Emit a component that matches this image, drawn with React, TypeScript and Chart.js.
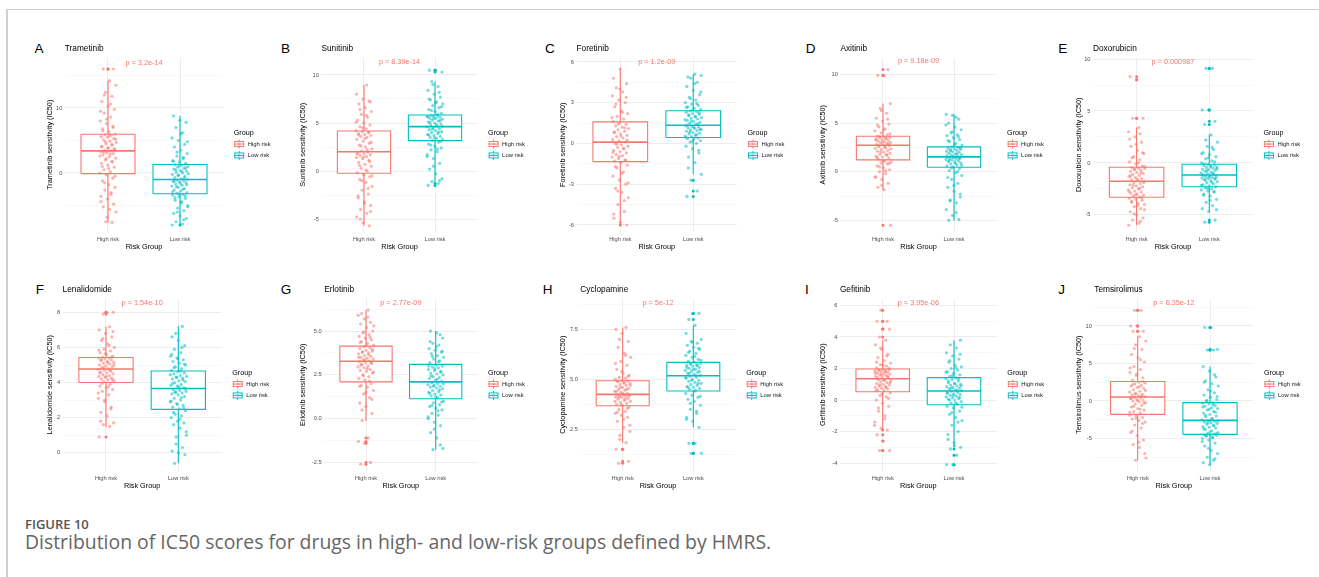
import React, { useEffect, useRef } from "react";
import { Chart, registerables } from "chart.js";

Chart.register(...registerables);

const FONT = "'Liberation Sans', Arial, Helvetica, sans-serif";
const HIGH_COLOR = "#F8766D";
const LOW_COLOR = "#00BFC4";
const HIGH_POINT = "rgba(248,118,109,0.55)";
const LOW_POINT = "rgba(0,191,196,0.55)";

// ---------------- data ----------------
const panelLetters = ["A", "B", "C", "D", "E", "F", "G", "H", "I", "J"];
const drugNames = ["Trametinib", "Sunitinib", "Foretinib", "Axitinib", "Doxorubicin", "Lenalidomide", "Erlotinib", "Cyclopamine", "Gefitinib", "Temsirolimus"];
const pLabels = ["p = 3.2e-14", "p = 8.39e-14", "p = 1.2e-09", "p = 9.18e-09", "p = 0.000987", "p = 1.54e-10", "p = 2.77e-09", "p = 5e-12", "p = 3.95e-06", "p = 6.35e-12"];
const pLabelY = [16.9, 11.35, 6.0, 11.4, 9.7, 8.53, 6.6, 8.8, 6.15, 13.07];
const riskGroups = ["High risk", "Low risk"];
const xAxisTitle = "Risk Group";
const legendTitle = "Group";

// box statistics: [lower whisker, Q1, median, Q3, upper whisker]
const highStats = [
  [-7.6, -0.1, 3.4, 5.95, 14.2],
  [-5.7, -0.24, 2.0, 4.17, 8.96],
  [-5.98, -1.34, 0.1, 1.59, 5.5],
  [-1.86, 1.21, 2.72, 3.65, 7.0],
  [-6.0, -3.3, -1.77, -0.42, 3.4],
  [1.45, 4.0, 4.77, 5.43, 7.18],
  [-0.14, 2.1, 3.28, 4.14, 6.2],
  [1.83, 3.68, 4.25, 4.93, 7.6],
  [-1.86, 0.53, 1.35, 1.97, 3.8],
  [-7.9, -1.78, 0.53, 2.6, 8.6],
];
const lowStats = [
  [-7.85, -3.2, -1.0, 1.3, 8.8],
  [-1.2, 3.16, 4.62, 5.83, 9.3],
  [-2.27, 0.44, 1.34, 2.41, 5.1],
  [-5.03, 0.45, 1.52, 2.55, 5.9],
  [-4.7, -2.29, -1.16, -0.13, 2.74],
  [-0.6, 2.47, 3.66, 4.66, 7.22],
  [-1.77, 1.14, 2.1, 3.1, 5.0],
  [2.6, 4.42, 5.18, 5.85, 7.7],
  [-3.0, -0.3, 0.57, 1.42, 3.8],
  [-8.5, -4.45, -2.58, -0.22, 4.6],
];

// individual sample values (IC50)
const trametinibHigh = [-7.6, -7.5, -6.0, -5.6, -5.2, -4.8, -4.0, -3.6, -3.0, -2.6, -2.2, -1.8, -1.2, -0.8, -0.3, 0.0, 0.2, 0.5, 0.9, 1.2, 1.5, 1.8, 2.0, 2.3, 2.5, 2.8, 3.0, 3.1, 3.3, 3.4, 3.5, 3.7, 3.9, 4.1, 4.3, 4.5, 4.7, 4.9, 5.1, 5.3, 5.5, 5.6, 5.8, 5.9, 6.0, 6.3, 6.8, 7.2, 7.6, 8.0, 8.6, 9.2, 9.8, 10.3, 11.0, 11.8, 12.4, 13.5, 14.2, 16.0, 16.0,
  -6.8, -4.4, -3.3, -1.5, -0.5, 0.7, 1.0, 1.7, 2.2, 2.6, 2.9, 3.2, 3.6, 3.8, 4.0, 4.4, 4.8, 5.2, 5.7, 6.5, 7.0, 8.3, 9.5, 10.6, 12.0];
const trametinibLow = [-8.0, -7.85, -7.5, -7.0, -6.6, -6.2, -5.8, -5.4, -5.0, -4.6, -4.2, -3.9, -3.6, -3.4, -3.3, -3.1, -3.0, -2.8, -2.6, -2.4, -2.2, -2.0, -1.9, -1.7, -1.5, -1.4, -1.3, -1.2, -1.1, -1.0, -0.9, -0.7, -0.5, -0.3, -0.2, 0.0, 0.1, 0.3, 0.4, 0.6, 0.7, 0.9, 1.0, 1.2, 1.3, 1.5, 1.7, 1.9, 2.2, 2.6, 3.0, 3.5, 4.0, 4.4, 5.0, 5.4, 6.2, 7.0, 7.8, 8.1, 8.8,
  -7.2, -6.0, -5.2, -4.4, -3.8, -3.5, -3.2, -2.9, -2.5, -2.1, -1.8, -1.6, -1.25, -0.8, -0.4, -0.1, 0.2, 0.5, 0.8, 1.1, 1.8, 2.4, 3.2, 4.8, 6.0];
const sunitinibHigh = [-5.7, -5.4, -4.8, -4.4, -4.0, -3.6, -3.2, -2.8, -2.4, -2.0, -1.6, -1.2, -0.9, -0.6, -0.4, -0.2, 0.0, 0.3, 0.5, 0.7, 0.9, 1.1, 1.3, 1.4, 1.5, 1.6, 1.7, 1.8, 1.9, 2.0, 2.1, 2.3, 2.5, 2.7, 2.9, 3.1, 3.3, 3.5, 3.6, 3.7, 3.8, 3.9, 4.0, 4.1, 4.2, 4.4, 4.6, 4.8, 5.0, 5.3, 5.6, 5.9, 6.2, 6.6, 7.0, 7.3, 7.5, 8.0, 8.96,
  -5.0, -4.2, -3.4, -2.6, -1.8, -1.0, -0.5, 0.1, 0.6, 1.0, 1.45, 1.75, 2.2, 2.6, 3.0, 3.4, 3.75, 4.05, 4.5, 5.1, 5.8, 6.4, 7.2];
const sunitinibLow = [-1.5, -1.3, -1.1, -0.8, -0.3, 0.2, 0.8, 1.3, 1.7, 2.0, 2.2, 2.4, 2.6, 2.8, 3.0, 3.2, 3.3, 3.4, 3.5, 3.6, 3.7, 3.8, 3.9, 4.0, 4.1, 4.2, 4.3, 4.4, 4.5, 4.6, 4.7, 4.8, 4.9, 5.0, 5.1, 5.2, 5.3, 5.4, 5.5, 5.5, 5.6, 5.7, 5.7, 5.8, 5.8, 6.0, 6.2, 6.4, 6.6, 6.8, 7.0, 7.2, 7.4, 7.7, 8.0, 8.4, 8.8, 9.3, 10.3, 10.5, 10.5,
  -1.0, 0.5, 1.5, 2.3, 2.7, 3.1, 3.45, 3.75, 4.05, 4.35, 4.65, 4.85, 5.05, 5.25, 5.45, 5.65, 5.9, 6.3, 6.7, 7.1, 7.5, 8.2, 9.0];
const foretinibHigh = [-6.0, -5.8, -5.5, -5.0, -4.5, -4.0, -3.6, -3.3, -3.0, -2.7, -2.4, -2.1, -1.8, -1.6, -1.4, -1.3, -1.2, -1.1, -1.0, -0.9, -0.8, -0.7, -0.6, -0.5, -0.4, -0.3, -0.2, -0.1, 0.0, 0.1, 0.2, 0.3, 0.4, 0.5, 0.6, 0.7, 0.8, 0.9, 1.0, 1.1, 1.2, 1.3, 1.4, 1.5, 1.6, 1.8, 2.0, 2.2, 2.4, 2.7, 3.0, 3.2, 3.5, 3.8, 4.1, 4.4, 5.5,
  -5.2, -4.2, -3.5, -2.9, -2.2, -1.7, -1.25, -0.95, -0.65, -0.35, -0.05, 0.25, 0.55, 0.85, 1.15, 1.45, 1.9, 2.3, 2.9, 3.4, 4.0, 4.8];
const foretinibLow = [-3.9, -3.5, -2.7, -2.27, -1.4, -1.0, -0.7, -0.4, -0.2, 0.0, 0.1, 0.2, 0.3, 0.35, 0.4, 0.5, 0.55, 0.6, 0.7, 0.75, 0.8, 0.9, 0.95, 1.0, 1.05, 1.1, 1.15, 1.2, 1.25, 1.3, 1.4, 1.5, 1.55, 1.6, 1.7, 1.8, 1.85, 1.9, 2.0, 2.1, 2.15, 2.2, 2.3, 2.35, 2.4, 2.5, 2.6, 2.7, 2.8, 2.9, 3.0, 3.2, 3.4, 3.6, 3.9, 4.2, 4.5, 4.8, 5.0, 5.1,
  -1.8, -0.5, 0.15, 0.45, 0.65, 0.85, 1.0, 1.2, 1.35, 1.45, 1.65, 1.75, 1.95, 2.05, 2.25, 2.45, 2.65, 2.95, 3.3, 3.8, 4.4, 4.9];
const axitinibHigh = [-5.5, -1.86, -1.6, -1.2, -0.8, -0.5, -0.2, 0.0, 0.2, 0.4, 0.6, 0.8, 0.9, 1.0, 1.1, 1.3, 1.4, 1.5, 1.6, 1.7, 1.8, 1.9, 2.0, 2.1, 2.2, 2.3, 2.4, 2.5, 2.6, 2.7, 2.75, 2.8, 2.9, 2.95, 3.0, 3.1, 3.15, 3.2, 3.3, 3.35, 3.4, 3.5, 3.55, 3.6, 3.65, 3.8, 4.0, 4.2, 4.4, 4.6, 4.9, 5.2, 5.5, 6.0, 6.5, 7.0, 9.9, 9.9, 10.5,
  -1.4, -0.6, 0.1, 0.5, 0.85, 1.15, 1.45, 1.75, 2.05, 2.35, 2.55, 2.65, 2.85, 3.05, 3.25, 3.45, 3.6, 3.9, 4.3, 4.8, 5.4, 6.3];
const axitinibLow = [-5.0, -4.9, -4.5, -3.9, -3.2, -2.9, -2.6, -2.0, -1.6, -1.2, -0.8, -0.4, -0.1, 0.1, 0.3, 0.5, 0.6, 0.7, 0.8, 0.9, 1.0, 1.05, 1.1, 1.2, 1.25, 1.3, 1.35, 1.4, 1.45, 1.5, 1.6, 1.7, 1.75, 1.8, 1.9, 2.0, 2.05, 2.1, 2.2, 2.25, 2.3, 2.35, 2.4, 2.5, 2.55, 2.7, 2.9, 3.1, 3.3, 3.5, 3.7, 3.8, 4.0, 4.3, 4.6, 5.0, 5.4, 5.8, 5.9,
  -4.2, -3.0, -2.3, -1.4, -0.6, 0.0, 0.4, 0.65, 0.85, 1.15, 1.35, 1.55, 1.65, 1.85, 2.15, 2.45, 2.8, 3.2, 3.6, 4.1, 4.8, 5.6];
const doxorubicinHigh = [-6.0, -5.8, -5.5, -5.3, -5.0, -4.7, -4.4, -4.2, -4.0, -3.9, -3.8, -3.6, -3.5, -3.4, -3.3, -3.2, -3.1, -3.0, -2.9, -2.8, -2.7, -2.6, -2.5, -2.4, -2.3, -2.2, -2.1, -2.0, -1.9, -1.8, -1.7, -1.6, -1.5, -1.4, -1.3, -1.2, -1.1, -1.0, -0.9, -0.8, -0.7, -0.6, -0.55, -0.5, -0.45, -0.3, -0.1, 0.1, 0.3, 0.6, 0.9, 1.2, 1.6, 2.0, 2.5, 3.0, 3.4, 4.3, 4.3, 8.0, 8.3,
  -5.6, -4.9, -4.5, -4.1, -3.7, -3.35, -3.05, -2.75, -2.45, -2.15, -1.85, -1.55, -1.25, -0.95, -0.65, -0.35, 0.0, 0.5, 1.0, 1.8, 2.3, 2.8];
const doxorubicinLow = [-5.7, -5.5, -4.7, -4.4, -4.1, -3.8, -3.5, -3.2, -3.0, -2.8, -2.7, -2.6, -2.5, -2.4, -2.3, -2.2, -2.1, -2.0, -1.9, -1.8, -1.7, -1.6, -1.55, -1.5, -1.45, -1.4, -1.35, -1.3, -1.25, -1.2, -1.1, -1.0, -0.95, -0.9, -0.8, -0.7, -0.65, -0.6, -0.5, -0.45, -0.4, -0.3, -0.25, -0.2, -0.15, 0.0, 0.2, 0.4, 0.6, 0.8, 1.0, 1.3, 1.6, 2.0, 2.7, 3.7, 4.0, 5.1, 5.1, 9.1, 9.1,
  -4.5, -3.6, -3.1, -2.75, -2.45, -2.15, -1.85, -1.65, -1.5, -1.35, -1.15, -0.95, -0.75, -0.55, -0.35, -0.1, 0.1, 0.5, 0.9, 1.5, 2.2];
const lenalidomideHigh = [0.9, 1.5, 1.6, 1.7, 2.1, 2.3, 2.6, 2.9, 3.1, 3.3, 3.5, 3.6, 3.7, 3.8, 3.9, 4.05, 4.1, 4.15, 4.2, 4.25, 4.3, 4.35, 4.4, 4.45, 4.5, 4.55, 4.6, 4.65, 4.7, 4.75, 4.8, 4.85, 4.9, 4.95, 5.0, 5.05, 5.1, 5.15, 5.2, 5.25, 5.3, 5.35, 5.4, 5.4, 5.43, 5.5, 5.6, 5.7, 5.8, 5.9, 6.0, 6.2, 6.4, 6.6, 6.8, 7.0, 7.18, 7.9, 8.0, 8.0,
  1.8, 2.5, 3.0, 3.4, 3.75, 3.95, 4.15, 4.35, 4.55, 4.7, 4.85, 5.0, 5.15, 5.3, 5.45, 5.65, 5.85, 6.1, 6.5, 6.9];
const lenalidomideLow = [-0.6, -0.1, 0.0, 0.1, 0.3, 0.9, 1.0, 1.4, 1.6, 1.7, 1.8, 2.0, 2.1, 2.2, 2.4, 2.5, 2.6, 2.7, 2.8, 2.9, 3.0, 3.1, 3.2, 3.3, 3.35, 3.4, 3.45, 3.5, 3.55, 3.6, 3.7, 3.8, 3.85, 3.9, 4.0, 4.05, 4.1, 4.2, 4.25, 4.3, 4.35, 4.4, 4.5, 4.55, 4.6, 4.7, 4.8, 4.9, 5.0, 5.1, 5.2, 5.3, 5.4, 5.5, 5.7, 5.9, 6.1, 6.4, 6.6, 7.2,
  0.5, 1.2, 1.9, 2.3, 2.55, 2.75, 2.95, 3.15, 3.45, 3.65, 3.75, 3.95, 4.15, 4.3, 4.45, 4.65, 4.85, 5.05, 5.35, 5.6, 6.0, 6.8];
const erlotinibHigh = [-2.6, -2.5, -1.4, -1.3, -1.1, -0.1, 0.3, 0.7, 0.9, 1.2, 1.4, 1.6, 1.8, 1.9, 2.0, 2.2, 2.3, 2.4, 2.5, 2.6, 2.7, 2.75, 2.8, 2.9, 2.95, 3.0, 3.1, 3.15, 3.2, 3.25, 3.3, 3.35, 3.4, 3.45, 3.5, 3.55, 3.6, 3.7, 3.75, 3.8, 3.85, 3.9, 4.0, 4.05, 4.1, 4.2, 4.3, 4.4, 4.5, 4.6, 4.7, 4.8, 4.9, 5.0, 5.2, 5.4, 5.5, 5.7, 5.9, 6.2,
  0.5, 1.1, 1.5, 1.85, 2.15, 2.45, 2.65, 2.85, 3.05, 3.2, 3.35, 3.5, 3.65, 3.8, 3.95, 4.15, 4.35, 4.65, 4.95, 5.3, 5.8, 6.0];
const erlotinibLow = [-1.77, -1.7, -1.1, -0.8, -0.4, -0.2, 0.0, 0.2, 0.3, 0.5, 0.6, 0.7, 0.8, 0.9, 1.0, 1.2, 1.3, 1.35, 1.4, 1.5, 1.55, 1.6, 1.7, 1.75, 1.8, 1.85, 1.9, 1.95, 2.0, 2.05, 2.15, 2.2, 2.3, 2.35, 2.4, 2.5, 2.55, 2.6, 2.7, 2.75, 2.8, 2.9, 2.95, 3.0, 3.05, 3.2, 3.3, 3.4, 3.5, 3.6, 3.7, 3.8, 3.9, 4.0, 4.2, 4.3, 4.6, 4.9, 5.0,
  -1.5, -0.6, 0.1, 0.45, 0.75, 0.95, 1.25, 1.45, 1.65, 1.85, 2.0, 2.25, 2.45, 2.65, 2.85, 3.0, 3.25, 3.55, 3.85, 4.1, 4.4, 4.8];
const cyclopamineHigh = [0.8, 0.9, 1.5, 1.5, 1.83, 2.2, 2.4, 2.6, 2.9, 3.1, 3.2, 3.3, 3.4, 3.5, 3.6, 3.7, 3.75, 3.8, 3.85, 3.9, 3.95, 4.0, 4.05, 4.1, 4.12, 4.15, 4.18, 4.2, 4.22, 4.24, 4.3, 4.35, 4.4, 4.45, 4.5, 4.55, 4.6, 4.65, 4.7, 4.75, 4.8, 4.85, 4.9, 4.92, 4.93, 5.0, 5.05, 5.1, 5.2, 5.3, 5.5, 5.7, 5.9, 6.1, 6.3, 6.6, 6.9, 7.3, 7.5, 7.6,
  2.0, 2.7, 3.0, 3.35, 3.55, 3.72, 3.9, 4.0, 4.1, 4.2, 4.3, 4.4, 4.5, 4.6, 4.7, 4.8, 4.9, 5.15, 5.4, 5.8, 6.2, 7.0];
const cyclopamineLow = [1.3, 1.3, 1.8, 1.8, 2.6, 2.9, 3.1, 3.3, 3.5, 3.7, 3.9, 4.0, 4.1, 4.2, 4.3, 4.45, 4.5, 4.55, 4.6, 4.65, 4.7, 4.75, 4.8, 4.85, 4.9, 4.95, 5.0, 5.05, 5.1, 5.15, 5.2, 5.25, 5.3, 5.35, 5.4, 5.45, 5.5, 5.55, 5.6, 5.65, 5.7, 5.72, 5.75, 5.8, 5.85, 5.9, 6.0, 6.1, 6.2, 6.3, 6.4, 6.5, 6.6, 6.7, 6.8, 6.9, 7.0, 7.7, 8.0, 8.3, 8.3,
  3.0, 3.4, 3.8, 4.15, 4.4, 4.6, 4.8, 4.95, 5.1, 5.2, 5.3, 5.4, 5.5, 5.6, 5.7, 5.8, 5.95, 6.15, 6.35, 6.55, 6.85, 7.3];
const gefitinibHigh = [-3.2, -3.2, -2.6, -2.2, -1.9, -1.8, -1.4, -1.0, -0.7, -0.4, -0.2, 0.0, 0.2, 0.3, 0.45, 0.6, 0.65, 0.7, 0.75, 0.8, 0.85, 0.9, 0.95, 1.0, 1.05, 1.1, 1.15, 1.2, 1.25, 1.3, 1.4, 1.45, 1.5, 1.55, 1.6, 1.65, 1.7, 1.72, 1.75, 1.8, 1.85, 1.88, 1.9, 1.93, 1.96, 2.05, 2.15, 2.25, 2.35, 2.5, 2.7, 2.9, 3.2, 3.5, 3.8, 4.0, 4.5, 4.5, 5.0, 5.0, 5.7,
  -1.6, -1.2, -0.5, 0.1, 0.4, 0.6, 0.8, 0.95, 1.1, 1.25, 1.4, 1.5, 1.6, 1.7, 1.8, 1.9, 2.0, 2.2, 2.4, 2.8, 3.3];
const gefitinibLow = [-4.1, -4.1, -3.5, -3.1, -3.0, -2.9, -2.5, -2.0, -1.6, -1.3, -1.1, -0.9, -0.7, -0.5, -0.4, -0.25, -0.2, -0.1, 0.0, 0.05, 0.1, 0.15, 0.2, 0.25, 0.3, 0.35, 0.4, 0.45, 0.5, 0.55, 0.6, 0.65, 0.7, 0.75, 0.8, 0.85, 0.9, 0.95, 1.0, 1.05, 1.1, 1.2, 1.3, 1.35, 1.4, 1.5, 1.6, 1.7, 1.8, 1.9, 2.0, 2.1, 2.2, 2.4, 2.6, 2.8, 3.0, 3.3, 3.5, 3.8,
  -2.7, -2.2, -1.4, -0.8, -0.45, -0.2, 0.0, 0.15, 0.3, 0.45, 0.6, 0.75, 0.9, 1.05, 1.2, 1.35, 1.55, 1.75, 2.05, 2.5, 2.9];
const temsirolimusHigh = [-7.9, -7.6, -6.2, -5.8, -5.2, -4.6, -4.2, -3.6, -3.2, -2.8, -2.6, -2.4, -2.2, -2.0, -1.9, -1.6, -1.4, -1.2, -1.0, -0.8, -0.6, -0.4, -0.2, -0.1, 0.0, 0.1, 0.2, 0.3, 0.4, 0.5, 0.6, 0.7, 0.8, 0.9, 1.0, 1.2, 1.3, 1.5, 1.7, 1.8, 2.0, 2.1, 2.3, 2.4, 2.5, 2.8, 3.1, 3.4, 3.8, 4.2, 4.6, 5.2, 5.8, 6.2, 6.9, 7.5, 8.0, 8.6, 9.3, 9.3, 10.0, 10.0, 12.1, 12.1,
  -7.0, -5.5, -4.0, -3.0, -2.3, -1.5, -1.1, -0.7, -0.3, 0.05, 0.35, 0.65, 0.95, 1.4, 1.9, 2.2, 2.6, 3.6, 4.4, 5.5, 7.0];
const temsirolimusLow = [-8.5, -8.2, -7.9, -7.5, -7.0, -6.6, -6.0, -5.6, -5.2, -5.0, -4.8, -4.7, -4.6, -4.5, -4.5, -4.4, -4.3, -4.2, -4.0, -3.8, -3.6, -3.5, -3.4, -3.2, -3.1, -3.0, -2.9, -2.8, -2.7, -2.6, -2.5, -2.3, -2.1, -2.0, -1.8, -1.6, -1.4, -1.2, -1.0, -0.9, -0.7, -0.6, -0.4, -0.3, -0.25, 0.0, 0.2, 0.5, 0.8, 1.1, 1.5, 2.0, 2.3, 2.7, 3.2, 4.0, 4.6, 6.8, 6.8, 6.9, 9.8, 9.8,
  -7.7, -6.3, -5.4, -4.9, -4.6, -4.35, -4.1, -3.7, -3.3, -2.95, -2.65, -2.4, -1.9, -1.5, -1.1, -0.8, -0.5, 0.1, 0.6, 1.3, 2.5, 3.5];

const highValues = [trametinibHigh, sunitinibHigh, foretinibHigh, axitinibHigh, doxorubicinHigh, lenalidomideHigh, erlotinibHigh, cyclopamineHigh, gefitinibHigh, temsirolimusHigh];
const lowValues = [trametinibLow, sunitinibLow, foretinibLow, axitinibLow, doxorubicinLow, lenalidomideLow, erlotinibLow, cyclopamineLow, gefitinibLow, temsirolimusLow];

// y-axis ticks
const yMajorTicks = [
  [0, 10],
  [-5, 0, 5, 10],
  [-6, -3, 0, 3, 6],
  [-5, 0, 5, 10],
  [-5, 0, 5, 10],
  [0, 2, 4, 6, 8],
  [-2.5, 0, 2.5, 5],
  [2.5, 5, 7.5],
  [-4, -2, 0, 2, 4, 6],
  [-5, 0, 5, 10],
];
const yTickLabels = [
  ["0", "10"],
  ["-5", "0", "5", "10"],
  ["-6", "-3", "0", "3", "6"],
  ["-5", "0", "5", "10"],
  ["-5", "0", "5", "10"],
  ["0", "2", "4", "6", "8"],
  ["-2.5", "0.0", "2.5", "5.0"],
  ["2.5", "5.0", "7.5"],
  ["-4", "-2", "0", "2", "4", "6"],
  ["-5", "0", "5", "10"],
];
const yMinorTicks = [
  [-5, 5, 15],
  [-2.5, 2.5, 7.5],
  [-4.5, -1.5, 1.5, 4.5],
  [-2.5, 2.5, 7.5],
  [-2.5, 2.5, 7.5],
  [1, 3, 5, 7],
  [-1.25, 1.25, 3.75, 6.25],
  [1.25, 3.75, 6.25, 8.75],
  [-3, -1, 1, 3, 5],
  [-7.5, -2.5, 2.5, 7.5, 12.5],
];
const yMin = [-9.0, -6.3, -6.48, -6.15, -6.6, -1.01, -2.96, 0.44, -4.47, -9.27];
const yMax = [17.69, 11.77, 6.29, 11.69, 10.1, 8.76, 6.83, 9.02, 6.41, 13.6];

// ---------------- layout (page pixels) ----------------
const ROWS = [
  { titleY: 49, plotTop: 58, plotBottom: 231.5 },
  { titleY: 289.3, plotTop: 299, plotBottom: 470.5 },
];
const PANELS = [
  { plotLeft: 64.8, plotRight: 223.2, yTitleX: 50, letterX: 34.5 },
  { plotLeft: 321.4, plotRight: 477.6, yTitleX: 303.3, letterX: 281 },
  { plotLeft: 576.5, plotRight: 737, yTitleX: 562.7, letterX: 545 },
  { plotLeft: 840.4, plotRight: 996.6, yTitleX: 823.3, letterX: 805.7 },
  { plotLeft: 1093, plotRight: 1252.9, yTitleX: 1079.3, letterX: 1058.3 },
  { plotLeft: 62.6, plotRight: 221.7, yTitleX: 50, letterX: 35.7 },
  { plotLeft: 324.2, plotRight: 477.5, yTitleX: 302.7, letterX: 280.7 },
  { plotLeft: 580.3, plotRight: 735.7, yTitleX: 562.7, letterX: 542.7 },
  { plotLeft: 839.9, plotRight: 996.8, yTitleX: 822.7, letterX: 805 },
  { plotLeft: 1094.3, plotRight: 1253.4, yTitleX: 1079.3, letterX: 1058.3 },
];
const LEGEND_W = 52;
const TITLE_SIZE = 8.3;
const AXIS_TITLE_SIZE = 7.3;
const TICK_SIZE = 5.7;
const P_SIZE = 7.3;
const BOX_HALF = 0.375;
const JITTER = 0.115;

const jitterOffset = (k: number, seed: number) => ((((k + 1) * 0.6180339887 + seed) % 1) - 0.5) * 2 * JITTER;

function geometry(i: number) {
  const row = ROWS[i < 5 ? 0 : 1];
  const p = PANELS[i];
  const left = Math.floor(p.yTitleX - 6);
  const top = Math.floor(row.titleY - 10);
  const width = Math.ceil(p.plotRight - left + LEGEND_W);
  const height = Math.ceil(row.plotBottom + 24 - top);
  return { left, top, width, height, row, p };
}

function drawKey(ctx: CanvasRenderingContext2D, x: number, y: number, color: string, pointColor: string) {
  ctx.save();
  ctx.strokeStyle = color;
  ctx.lineWidth = 1;
  ctx.beginPath();
  ctx.moveTo(x + 5, y - 4.5);
  ctx.lineTo(x + 5, y - 2.5);
  ctx.moveTo(x + 5, y + 2.5);
  ctx.lineTo(x + 5, y + 4.5);
  ctx.stroke();
  ctx.fillStyle = "#ffffff";
  ctx.fillRect(x + 0.5, y - 2.5, 9, 5);
  ctx.strokeRect(x + 0.5, y - 2.5, 9, 5);
  ctx.beginPath();
  ctx.moveTo(x + 0.5, y);
  ctx.lineTo(x + 9.5, y);
  ctx.stroke();
  ctx.fillStyle = pointColor;
  ctx.beginPath();
  ctx.arc(x + 5, y, 1.4, 0, Math.PI * 2);
  ctx.fill();
  ctx.restore();
}

function buildConfig(i: number): any {
  const g = geometry(i);
  const titleLH = TITLE_SIZE * 1.2;
  const titlePadTop = g.row.titleY - g.top - titleLH / 2;
  const titlePadBottom = g.row.plotTop - g.top - titleLH - titlePadTop;
  const yAxisWidth = g.p.plotLeft - g.left;
  const xAxisHeight = g.height - (g.row.plotBottom - g.top);
  const axisLH = AXIS_TITLE_SIZE * 1.2;
  const yTitlePad = g.p.yTitleX - g.left - axisLH / 2;
  const xTitlePadBottom = xAxisHeight - 15.5 - axisLH / 2;
  const rightPad = g.width - (g.p.plotRight - g.left);

  const groups = [
    { values: highValues[i], stats: highStats[i], color: HIGH_COLOR, point: HIGH_POINT, c: 1, seed: 0.13 + i * 0.07 },
    { values: lowValues[i], stats: lowStats[i], color: LOW_COLOR, point: LOW_POINT, c: 2, seed: 0.41 + i * 0.05 },
  ];

  const datasets: any[] = [];
  groups.forEach((gr) => {
    const [lo, q1, med, q3, hi] = gr.stats;
    const c = gr.c;
    const base = { type: "line", pointRadius: 0, tension: 0, fill: false };
    datasets.push({ ...base, data: [{ x: c - BOX_HALF, y: q3 }, { x: c + BOX_HALF, y: q3 }], fill: { value: q1 }, backgroundColor: "#ffffff", borderWidth: 0, borderColor: "rgba(0,0,0,0)", order: 6 });
    datasets.push({ ...base, data: [{ x: c, y: q3 }, { x: c, y: hi }], borderColor: gr.color, borderWidth: 1.1, order: 5 });
    datasets.push({ ...base, data: [{ x: c, y: lo }, { x: c, y: q1 }], borderColor: gr.color, borderWidth: 1.1, order: 5 });
    datasets.push({ ...base, data: [{ x: c - BOX_HALF, y: q1 }, { x: c + BOX_HALF, y: q1 }, { x: c + BOX_HALF, y: q3 }, { x: c - BOX_HALF, y: q3 }, { x: c - BOX_HALF, y: q1 }], borderColor: gr.color, borderWidth: 1.1, order: 4 });
    datasets.push({ ...base, data: [{ x: c - BOX_HALF, y: med }, { x: c + BOX_HALF, y: med }], borderColor: gr.color, borderWidth: 1.6, order: 3 });
    datasets.push({
      type: "scatter",
      data: gr.values.filter((v) => v > hi || v < lo).map((v) => ({ x: c, y: v })),
      pointRadius: 1.5,
      pointBorderWidth: 0,
      backgroundColor: gr.color,
      borderColor: gr.color,
      order: 2,
    });
    datasets.push({
      type: "scatter",
      data: gr.values.map((v, k) => ({ x: c + jitterOffset(k, gr.seed), y: v })),
      pointRadius: 1.6,
      pointBorderWidth: 0,
      backgroundColor: gr.point,
      borderColor: gr.point,
      order: 1,
    });
  });

  const majors = yMajorTicks[i];
  const allTicks = [...majors, ...yMinorTicks[i]].sort((a, b) => a - b);
  const isMajor = (v: number) => majors.some((m) => Math.abs(m - v) < 1e-6);

  const pValuePlugin = {
    id: "pValue" + i,
    afterDatasetsDraw(chart: any) {
      const ctx = chart.ctx;
      const xs = chart.scales.x;
      const ys = chart.scales.y;
      ctx.save();
      ctx.fillStyle = HIGH_COLOR;
      ctx.font = `${P_SIZE}px ${FONT}`;
      ctx.textAlign = "center";
      ctx.textBaseline = "middle";
      ctx.fillText(pLabels[i], xs.getPixelForValue(1.5), ys.getPixelForValue(pLabelY[i]));
      ctx.restore();
    },
  };

  const legendPlugin = {
    id: "boxLegend" + i,
    afterDraw(chart: any) {
      const { ctx, chartArea } = chart;
      const x0 = chartArea.right + 10.5;
      const cy = (chartArea.top + chartArea.bottom) / 2;
      ctx.save();
      ctx.textAlign = "left";
      ctx.textBaseline = "middle";
      ctx.fillStyle = "#000000";
      ctx.font = `7.2px ${FONT}`;
      ctx.fillText(legendTitle, x0, cy - 12);
      [HIGH_COLOR, LOW_COLOR].forEach((col, k) => {
        const y = cy - 0.7 + k * 11.4;
        drawKey(ctx, x0 + 0.5, y, col, k === 0 ? HIGH_POINT : LOW_POINT);
        ctx.fillStyle = "#1a1a1a";
        ctx.font = `5.9px ${FONT}`;
        ctx.fillText(riskGroups[k], x0 + 14, y);
      });
      ctx.restore();
    },
  };

  return {
    type: "scatter",
    data: { datasets },
    plugins: [pValuePlugin, legendPlugin],
    options: {
      animation: false,
      responsive: false,
      events: [],
      layout: { padding: { left: 0, top: 0, bottom: 0, right: rightPad } },
      plugins: {
        legend: { display: false },
        tooltip: { enabled: false },
        title: {
          display: true,
          text: drugNames[i],
          align: "start",
          fullSize: false,
          color: "#000000",
          font: { family: FONT, size: TITLE_SIZE, weight: "normal" },
          padding: { top: titlePadTop, bottom: titlePadBottom },
        },
      },
      scales: {
        x: {
          type: "linear",
          min: 0.4,
          max: 2.6,
          afterBuildTicks: (s: any) => {
            s.ticks = riskGroups.map((_, k) => ({ value: k + 1 }));
          },
          afterFit: (s: any) => {
            s.height = xAxisHeight;
          },
          ticks: {
            autoSkip: false,
            maxRotation: 0,
            padding: 4.1,
            color: "#4D4D4D",
            font: { family: FONT, size: TICK_SIZE },
            callback: (v: any) => riskGroups[Math.round(Number(v)) - 1] ?? "",
          },
          grid: { color: "#EBEBEB", lineWidth: 0.9, drawTicks: false },
          border: { display: false },
          title: {
            display: true,
            text: xAxisTitle,
            color: "#000000",
            font: { family: FONT, size: AXIS_TITLE_SIZE },
            padding: { top: 0, bottom: xTitlePadBottom },
          },
        },
        y: {
          type: "linear",
          min: yMin[i],
          max: yMax[i],
          afterBuildTicks: (s: any) => {
            s.ticks = allTicks.map((v) => ({ value: v }));
          },
          afterFit: (s: any) => {
            s.width = yAxisWidth;
          },
          ticks: {
            autoSkip: false,
            padding: 2.5,
            color: "#4D4D4D",
            font: { family: FONT, size: TICK_SIZE },
            callback: (v: any) => {
              const idx = majors.findIndex((m) => Math.abs(m - Number(v)) < 1e-6);
              return idx >= 0 ? yTickLabels[i][idx] : "";
            },
          },
          grid: {
            drawTicks: false,
            color: (ctx: any) => (ctx.tick && isMajor(ctx.tick.value) ? "#EBEBEB" : "#F3F3F3"),
            lineWidth: (ctx: any) => (ctx.tick && isMajor(ctx.tick.value) ? 0.9 : 0.6),
          },
          border: { display: false },
          title: {
            display: true,
            text: `${drugNames[i]} sensitivity (IC50)`,
            color: "#000000",
            font: { family: FONT, size: AXIS_TITLE_SIZE },
            padding: { top: yTitlePad, bottom: 0 },
          },
        },
      },
    },
  };
}

export default function App() {
  const refs = useRef<(HTMLCanvasElement | null)[]>([]);

  useEffect(() => {
    const charts = drugNames.map((_, i) => {
      const cv = refs.current[i];
      if (!cv) return null;
      return new Chart(cv, buildConfig(i));
    });
    return () => {
      charts.forEach((c) => c && c.destroy());
    };
  }, []);

  return (
    <div style={{ position: "absolute", left: 0, top: 0, width: 1319, height: 577, background: "#ffffff", overflow: "hidden" }}>
      <div style={{ position: "absolute", left: 6, top: 8.5, width: 1320, height: 1.5, background: "#cfcfcf" }} />
      <div style={{ position: "absolute", left: 6, top: 8.5, width: 1.5, height: 580, background: "#cfcfcf" }} />
      {drugNames.map((_, i) => {
        const g = geometry(i);
        return (
          <React.Fragment key={i}>
            <canvas
              ref={(el) => {
                refs.current[i] = el;
              }}
              width={g.width}
              height={g.height}
              style={{ position: "absolute", left: g.left, top: g.top, width: g.width, height: g.height }}
            />
            <div
              style={{
                position: "absolute",
                left: g.p.letterX,
                top: g.row.titleY - 6.6,
                fontFamily: FONT,
                fontSize: 13.5,
                lineHeight: "13.5px",
                color: "#000000",
                whiteSpace: "nowrap",
              }}
            >
              {panelLetters[i]}
            </div>
          </React.Fragment>
        );
      })}
      <div
        style={{
          position: "absolute",
          left: 25,
          top: 518,
          fontFamily: "'Open Sans', sans-serif",
          fontSize: 13,
          lineHeight: "13px",
          fontWeight: 600,
          color: "#555555",
          whiteSpace: "nowrap",
        }}
      >
        FIGURE 10
      </div>
      <div
        style={{
          position: "absolute",
          left: 25,
          top: 531.2,
          fontFamily: "'Open Sans', sans-serif",
          fontSize: 19.4,
          lineHeight: "22px",
          fontWeight: 400,
          color: "#666666",
          whiteSpace: "nowrap",
        }}
      >
        Distribution of IC50 scores for drugs in high- and low-risk groups defined by HMRS.
      </div>
    </div>
  );
}
